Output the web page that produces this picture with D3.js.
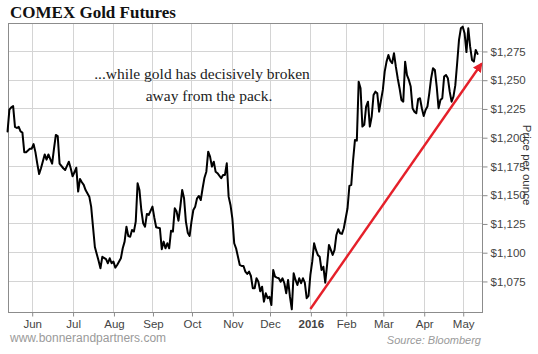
<!DOCTYPE html>
<html>
<head>
<meta charset="utf-8">
<script src="https://cdn.jsdelivr.net/npm/d3@7/dist/d3.min.js"></script>
<style>
  html, body { margin: 0; padding: 0; background: #fff; }
  svg { display: block; }
</style>
</head>
<body>
<svg id="chart" width="538" height="354"></svg>
<script>
// ---------------- DATA ----------------
const title = "COMEX Gold Futures";
const noteLines = ["...while gold has decisively broken", "away from the pack."];
const yTitle = "Price per ounce";
const footer = "www.bonnerandpartners.com";
const source = "Source: Bloomberg";

// trading calendar (x categories)
const calendarStart = "2015-05-12";
const calendarEnd = "2016-05-16";
const holidays = ["2015-05-25", "2015-07-03", "2015-09-07", "2015-11-26", "2015-12-25",
                  "2016-01-01", "2016-01-18", "2016-02-15", "2016-03-25"];

const monthLabels = ["Jun", "Jul", "Aug", "Sep", "Oct", "Nov", "Dec", "2016", "Feb", "Mar", "Apr", "May"];
const yTicks = [1075, 1100, 1125, 1150, 1175, 1200, 1225, 1250, 1275];
const yDomain = [1048, 1299.3];

const dates = [
"2015-05-12","2015-05-13","2015-05-14","2015-05-15","2015-05-18","2015-05-19","2015-05-20","2015-05-21","2015-05-22","2015-05-26",
"2015-05-27","2015-05-29","2015-06-01","2015-06-02","2015-06-03","2015-06-04","2015-06-05","2015-06-08","2015-06-10","2015-06-11",
"2015-06-12","2015-06-15","2015-06-16","2015-06-17","2015-06-18","2015-06-19","2015-06-22","2015-06-24","2015-06-25","2015-06-26",
"2015-06-29","2015-06-30","2015-07-01","2015-07-02","2015-07-06","2015-07-07","2015-07-08","2015-07-09","2015-07-10","2015-07-13",
"2015-07-15","2015-07-16","2015-07-17","2015-07-20","2015-07-22","2015-07-23","2015-07-24","2015-07-28","2015-07-29","2015-07-30",
"2015-07-31","2015-08-03","2015-08-04","2015-08-05","2015-08-07","2015-08-10","2015-08-11","2015-08-12","2015-08-13","2015-08-14",
"2015-08-17","2015-08-18","2015-08-19","2015-08-20","2015-08-21","2015-08-24","2015-08-25","2015-08-26","2015-08-27","2015-08-28",
"2015-09-01","2015-09-02","2015-09-03","2015-09-08","2015-09-09","2015-09-10","2015-09-11","2015-09-14","2015-09-15","2015-09-16",
"2015-09-17","2015-09-18","2015-09-21","2015-09-22","2015-09-23","2015-09-24","2015-09-25","2015-09-28","2015-09-29","2015-09-30",
"2015-10-01","2015-10-02","2015-10-05","2015-10-06","2015-10-07","2015-10-08","2015-10-09","2015-10-12","2015-10-13","2015-10-14",
"2015-10-15","2015-10-16","2015-10-19","2015-10-20","2015-10-21","2015-10-23","2015-10-26","2015-10-27","2015-10-28","2015-10-29",
"2015-10-30","2015-11-02","2015-11-03","2015-11-04","2015-11-06","2015-11-09","2015-11-10","2015-11-11","2015-11-12","2015-11-13",
"2015-11-16","2015-11-17","2015-11-18","2015-11-19","2015-11-20","2015-11-23","2015-11-24","2015-11-25","2015-11-27","2015-11-30",
"2015-12-01","2015-12-02","2015-12-03","2015-12-04","2015-12-07","2015-12-08","2015-12-09","2015-12-10","2015-12-11","2015-12-14",
"2015-12-15","2015-12-16","2015-12-17","2015-12-18","2015-12-21","2015-12-22","2015-12-23","2015-12-24","2015-12-28","2015-12-29",
"2015-12-30","2015-12-31","2016-01-04","2016-01-05","2016-01-06","2016-01-07","2016-01-08","2016-01-11","2016-01-12","2016-01-13",
"2016-01-14","2016-01-15","2016-01-19","2016-01-20","2016-01-21","2016-01-22","2016-01-25","2016-01-26","2016-01-27","2016-01-28",
"2016-01-29","2016-02-01","2016-02-02","2016-02-03","2016-02-04","2016-02-05","2016-02-08","2016-02-09","2016-02-10","2016-02-11",
"2016-02-12","2016-02-16","2016-02-17","2016-02-18","2016-02-19","2016-02-22","2016-02-23","2016-02-24","2016-02-25","2016-02-26",
"2016-02-29","2016-03-01","2016-03-02","2016-03-03","2016-03-04","2016-03-07","2016-03-08","2016-03-09","2016-03-10","2016-03-11",
"2016-03-14","2016-03-15","2016-03-16","2016-03-17","2016-03-18","2016-03-21","2016-03-22","2016-03-23","2016-03-24","2016-03-28",
"2016-03-29","2016-03-30","2016-03-31","2016-04-01","2016-04-04","2016-04-05","2016-04-06","2016-04-07","2016-04-08","2016-04-11",
"2016-04-12","2016-04-13","2016-04-14","2016-04-15","2016-04-18","2016-04-19","2016-04-20","2016-04-21","2016-04-22","2016-04-25",
"2016-04-26","2016-04-27","2016-04-28","2016-04-29","2016-05-02","2016-05-03","2016-05-04","2016-05-05","2016-05-06","2016-05-09",
"2016-05-10","2016-05-11","2016-05-12"
];
const prices = [
1205,1224,1226,1227,1209,1208,1209,1205,1204,1187,
1187,1190,1190,1194,1187,1177,1168,1173,1185,1180.5,
1185,1181,1177,1190,1202,1201,1177,1173,1171.5,1175,
1178.7,1173,1166,1169.5,1173.5,1152.7,1163.7,1160.8,1158.5,1154,
1148.3,1139.6,1122,1104.5,1092.5,1086,1096,1094,1090.4,1094.7,
1090.4,1091.8,1086.6,1088.9,1094.7,1103.4,1109.2,1122.2,1114,1113.5,
1119.3,1117.9,1126.6,1160,1154,1136.7,1125.2,1122.2,1133.3,1132.4,
1139.6,1130,1121.7,1120.8,1102.6,1109.2,1103.4,1107.8,1103.4,1118.7,
1117.9,1138.2,1135.3,1127.4,1139.6,1154.1,1146.9,1126.6,1117,1114.1,
1126.6,1136.7,1139.6,1146.9,1148.9,1145.4,1155.6,1164.8,1170,1187.4,
1183.1,1174.4,1178.7,1170,1168.7,1164.3,1167.2,1167.2,1177.3,1148.3,
1141.1,1129.5,1107.8,1103.4,1088.9,1088,1088,1083.1,1081.1,1083.1,
1079.3,1068.7,1068.7,1077.3,1074.4,1066,1070,1057,1064.3,1060,
1061.3,1054,1084.6,1078.7,1077.9,1077.3,1074.4,1077.3,1073,1064.3,
1075.9,1061.3,1050.4,1081.7,1075.9,1071.5,1077.3,1073,1077.3,1073.5,
1060,1062,1080.2,1091.8,1107.8,1102,1097.6,1096.1,1084.6,1087.4,
1073.5,1088.9,1106.3,1102,1097.6,1102,1115,1120,1116.5,1115.9,
1120.8,1129.5,1138.2,1157.6,1158.5,1180.2,1197.6,1197,1248.3,1242.6,
1209.2,1210.7,1226.6,1230.9,1209.2,1217.9,1236.7,1239.6,1238.2,1222.2,
1232,1241.1,1257,1265.7,1271.5,1266.5,1264.3,1273,1261.3,1251.3,
1242.6,1232.4,1230.9,1265.7,1254,1249.8,1244,1225.2,1222.2,1220.8,
1233,1233.9,1225.2,1218.5,1223.7,1226.6,1238.2,1251.3,1260,1258.5,
1244,1225.2,1232.4,1233.9,1252.7,1254.1,1251.3,1239.6,1230.9,1235.3,
1245,1264.3,1284.6,1294.7,1296.1,1290.4,1274,1294.7,1278.7,1267.2,
1265.7,1275.9,1272.4
];

// red trend arrow annotation
const arrowFrom = { date: "2016-01-04", price: 1050.6 };
const arrowTo = { date: "2016-05-16", price: 1263.7 };

// ---------------- CHART ----------------
const svg = d3.select("#chart");
const plot = { left: 8, right: 482, top: 23, bottom: 312 };

const fmt = d3.timeFormat("%Y-%m-%d");
const parse = d3.timeParse("%Y-%m-%d");
const holidaySet = new Set(holidays);
const tradingDays = d3.timeDay.range(parse(calendarStart), d3.timeDay.offset(parse(calendarEnd), 1))
  .filter(d => d.getDay() !== 0 && d.getDay() !== 6 && !holidaySet.has(fmt(d)))
  .map(fmt);

const x = d3.scalePoint().domain(tradingDays).range([7.55, 481.3]);
const y = d3.scaleLinear().domain(yDomain).range([plot.bottom, plot.top]);

// first trading day of each month, Jun 2015 .. May 2016
const tickDays = [];
let lastMonth = null;
tradingDays.forEach(d => {
  const m = d.slice(0, 7);
  if (m !== lastMonth) { if (lastMonth !== null) tickDays.push(d); lastMonth = m; }
});

const gridColor = "#d4d4d4";
const frameColor = "#8c8c8c";
const snap = v => Math.round(v) + 0.5;

// grid
const grid = svg.append("g");
grid.selectAll("line.v").data(tickDays).enter().append("line")
  .attr("x1", d => snap(x(d))).attr("x2", d => snap(x(d)))
  .attr("y1", plot.top).attr("y2", plot.bottom)
  .attr("stroke", gridColor).attr("stroke-width", 1);
grid.selectAll("line.h").data(yTicks).enter().append("line")
  .attr("x1", plot.left).attr("x2", plot.right)
  .attr("y1", d => snap(y(d))).attr("y2", d => snap(y(d)))
  .attr("stroke", gridColor).attr("stroke-width", 1);

// frame
svg.append("rect")
  .attr("x", plot.left + 0.5).attr("y", plot.top + 0.5)
  .attr("width", plot.right - plot.left).attr("height", plot.bottom - plot.top)
  .attr("fill", "none").attr("stroke", frameColor).attr("stroke-width", 1);

// x axis
const xAxis = d3.axisBottom(x).tickValues(tickDays)
  .tickFormat((d, i) => monthLabels[i]).tickSize(4).tickPadding(3);
const gx = svg.append("g").attr("transform", `translate(0.5,${plot.bottom + 0.5})`).call(xAxis);
gx.select(".domain").remove();
gx.selectAll(".tick line").attr("stroke", frameColor);
gx.selectAll(".tick text")
  .attr("fill", "#444").style("font-family", "Liberation Sans, Arial, sans-serif")
  .style("font-size", "11.5px")
  .style("font-weight", (d, i) => monthLabels[i] === "2016" ? "bold" : "normal");

// y axis (right)
const yAxis = d3.axisRight(y).tickValues(yTicks)
  .tickFormat(d => "$" + d3.format(",")(d)).tickSize(5).tickPadding(3);
const gy = svg.append("g").attr("transform", `translate(${plot.right + 0.5},0.5)`).call(yAxis);
gy.select(".domain").remove();
gy.selectAll(".tick line").attr("stroke", frameColor);
gy.selectAll(".tick text")
  .attr("fill", "#444").style("font-family", "Liberation Sans, Arial, sans-serif")
  .style("font-size", "11.5px");

// price line
const line = d3.line()
  .x((d, i) => x(dates[i]))
  .y((d, i) => y(prices[i]));
svg.append("path")
  .datum(prices)
  .attr("d", line)
  .attr("fill", "none").attr("stroke", "#000").attr("stroke-width", 2)
  .attr("stroke-linejoin", "round").attr("stroke-linecap", "round");

// arrow
const defs = svg.append("defs");
defs.append("marker").attr("id", "ah")
  .attr("viewBox", "0 0 10 10").attr("refX", 8).attr("refY", 5)
  .attr("markerWidth", 4).attr("markerHeight", 4).attr("orient", "auto")
  .attr("markerUnits", "strokeWidth")
  .append("path").attr("d", "M0,0 L10,5 L0,10 z").attr("fill", "#e5202a");
svg.append("line")
  .attr("x1", x(arrowFrom.date)).attr("y1", y(arrowFrom.price))
  .attr("x2", x(arrowTo.date)).attr("y2", y(arrowTo.price))
  .attr("stroke", "#e5202a").attr("stroke-width", 2.4)
  .attr("marker-end", "url(#ah)");

// title
svg.append("text").attr("x", 10).attr("y", 18)
  .text(title)
  .style("font-family", "Liberation Serif, Times New Roman, serif")
  .style("font-weight", "bold").style("font-size", "17px").attr("fill", "#111");

// note
svg.append("text").attr("x", 205).attr("y", 79)
  .attr("text-anchor", "middle")
  .style("font-family", "Liberation Serif, Times New Roman, serif")
  .style("font-size", "15.5px").attr("fill", "#222")
  .selectAll("tspan").data(noteLines).enter().append("tspan")
  .attr("x", (d, i) => i === 0 ? 202 : 209).attr("dy", (d, i) => i === 0 ? 0 : 22)
  .text(d => d);

// y title
svg.append("text")
  .attr("transform", "translate(523,165) rotate(90)")
  .attr("text-anchor", "middle")
  .style("font-family", "Liberation Sans, Arial, sans-serif")
  .style("font-size", "11.5px").attr("fill", "#333")
  .text(yTitle);

// footer
svg.append("text").attr("x", 10).attr("y", 342)
  .style("font-family", "Liberation Sans, Arial, sans-serif")
  .style("font-size", "12px").attr("fill", "#9a9a9a")
  .text(footer);
svg.append("text").attr("x", 481).attr("y", 344)
  .attr("text-anchor", "end")
  .style("font-family", "Liberation Sans, Arial, sans-serif")
  .style("font-style", "italic")
  .style("font-size", "11px").attr("fill", "#9a9a9a")
  .text(source);
</script>
</body>
</html>
